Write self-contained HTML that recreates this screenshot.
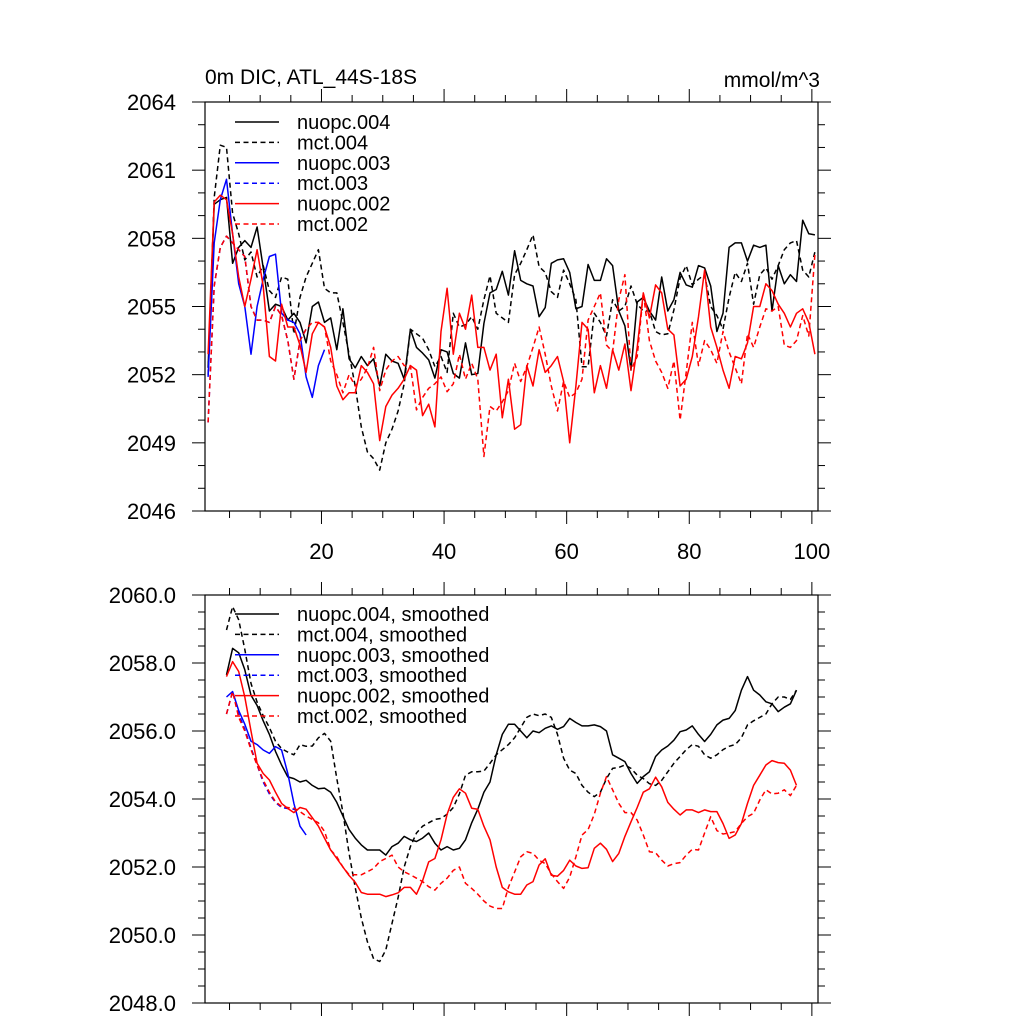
<!DOCTYPE html>
<html><head><meta charset="utf-8"><style>
html,body{margin:0;padding:0;background:#fff;}
svg{display:block;font-family:"Liberation Sans",Arial,sans-serif;}
</style></head><body>
<svg id="chart" width="1024" height="1024" viewBox="0 0 1024 1024" xmlns="http://www.w3.org/2000/svg">
<rect width="1024" height="1024" fill="#fff"/>
<text x="205" y="84" font-size="21">0m DIC, ATL_44S-18S</text>
<text x="820" y="87" font-size="21" text-anchor="end">mmol/m^3</text>
<g id="top"></g>
<g id="bot"></g>
</svg>
<script>
// ---- top panel data (index i = 1..N) ----
const nuopc004 = [2052.3,2059.5,2059.7,2059.8,2056.9,2057.6,2057.9,2057.6,2058.5,2056.7,2054.8,2055.1,2055.0,2054.4,2054.7,2054.3,2053.4,2055.0,2055.2,2054.3,2054.5,2053.1,2054.9,2052.7,2052.3,2052.8,2052.4,2052.7,2051.5,2052.9,2052.6,2052.5,2051.8,2054.0,2053.2,2052.95,2052.65,2051.85,2053.1,2053.0,2052.05,2051.85,2053.4,2052.0,2052.05,2054.25,2055.6,2055.75,2056.55,2055.5,2057.45,2056.15,2056.0,2055.9,2054.55,2054.95,2056.9,2057.05,2057.1,2056.5,2054.9,2055.0,2056.85,2056.15,2056.15,2057.1,2056.8,2054.8,2054.15,2052.2,2055.2,2055.4,2054.8,2054.4,2056.3,2054.8,2055.3,2056.5,2055.95,2055.85,2056.8,2056.7,2055.9,2053.9,2054.7,2057.6,2057.8,2057.8,2057.0,2057.7,2057.6,2057.7,2054.8,2056.8,2056.0,2056.4,2056.1,2058.8,2058.2,2058.15];
const mct004 = [2052.0,2059.8,2062.1,2062.0,2059.1,2058.2,2057.05,2057.4,2056.3,2056.8,2055.7,2055.4,2056.3,2056.2,2053.8,2055.4,2056.3,2056.9,2057.5,2055.8,2055.6,2055.6,2054.3,2052.9,2051.5,2049.7,2048.6,2048.3,2047.8,2049.0,2049.6,2050.4,2051.6,2054.0,2053.8,2053.6,2053.1,2052.35,2052.8,2052.1,2054.7,2054.1,2054.2,2054.55,2054.0,2055.3,2056.35,2054.7,2054.5,2054.3,2056.4,2056.9,2057.5,2058.15,2056.75,2056.5,2055.65,2055.4,2056.6,2056.0,2055.3,2052.35,2052.35,2054.7,2054.3,2053.7,2055.3,2054.8,2055.0,2055.9,2055.1,2054.8,2054.8,2053.9,2053.75,2053.8,2054.85,2056.25,2056.8,2055.95,2056.2,2056.4,2055.0,2054.6,2054.0,2055.4,2056.5,2056.1,2056.9,2055.1,2056.4,2056.7,2056.2,2056.8,2057.5,2057.8,2057.9,2056.6,2056.3,2057.4];
const nuopc003 = [2051.9,2057.8,2059.7,2060.6,2058.2,2056.0,2055.0,2052.9,2055.0,2056.2,2057.2,2057.3,2054.7,2054.4,2054.3,2053.8,2051.9,2051.0,2052.4,2053.1];
const mct003 = [2049.9,2055.9,2057.6,2058.1,2057.8,2057.5,2057.2,2055.0,2054.4,2054.4,2054.3,2055.0,2054.6,2053.5,2051.8,2053.5,2054.0];
const nuopc002 = [2052.9,2059.6,2059.9,2059.7,2058.2,2056.3,2055.0,2056.2,2057.5,2055.9,2052.8,2052.6,2055.1,2054.1,2054.1,2053.3,2052.1,2053.8,2054.3,2054.1,2053.2,2051.5,2050.9,2051.2,2051.2,2052.4,2052.1,2051.6,2049.1,2050.6,2051.1,2051.4,2051.8,2052.4,2052.2,2050.2,2050.7,2049.7,2053.9,2055.8,2052.9,2054.7,2054.0,2055.5,2053.2,2053.2,2052.2,2052.9,2050.1,2051.8,2049.6,2049.8,2052.4,2051.5,2053.1,2052.1,2052.4,2052.8,2051.7,2049.0,2051.5,2054.3,2054.0,2051.2,2052.4,2051.4,2053.1,2052.2,2053.35,2051.3,2053.2,2055.6,2054.5,2055.95,2055.6,2054.0,2053.75,2051.5,2051.8,2052.8,2054.55,2056.6,2054.1,2053.2,2052.2,2051.4,2052.8,2052.7,2053.4,2055.0,2055.0,2056.0,2055.7,2055.1,2054.7,2054.1,2054.7,2054.9,2054.3,2052.9];
const mct002 = [2049.9,2055.9,2057.6,2058.1,2057.8,2057.5,2057.2,2055.0,2054.4,2054.4,2054.3,2055.0,2054.6,2053.5,2051.8,2053.5,2054.0,2054.3,2054.3,2054.1,2052.6,2052.0,2051.2,2052.0,2051.5,2051.8,2052.3,2053.2,2051.3,2052.2,2052.6,2052.8,2052.4,2052.4,2050.45,2051.0,2051.4,2051.6,2051.9,2051.25,2051.6,2052.9,2051.8,2052.5,2051.8,2048.4,2050.6,2050.4,2050.8,2051.3,2052.5,2051.7,2052.35,2053.2,2054.1,2052.9,2051.5,2050.4,2051.7,2051.0,2051.2,2051.8,2054.4,2055.0,2055.6,2053.3,2053.0,2055.3,2056.4,2052.2,2052.8,2055.6,2053.5,2052.6,2052.1,2051.4,2052.6,2050.0,2052.1,2054.3,2052.4,2053.5,2053.1,2052.5,2053.9,2053.0,2052.3,2051.6,2053.8,2053.2,2054.1,2054.9,2054.8,2055.0,2053.3,2053.2,2053.5,2054.6,2053.7,2057.3];
// ---- bottom panel smoothed data (index i starts at 4) ----
const smoothStart = 4;
const nuopc004s = [2057.65,2058.43,2058.3,2057.8,2057.05,2056.75,2056.3,2055.9,2055.4,2055.0,2054.65,2054.6,2054.5,2054.55,2054.4,2054.3,2054.32,2054.2,2053.9,2053.5,2053.1,2052.85,2052.65,2052.5,2052.5,2052.5,2052.35,2052.6,2052.7,2052.9,2052.8,2052.75,2052.85,2053.0,2052.7,2052.5,2052.6,2052.5,2052.55,2052.8,2053.3,2053.7,2054.2,2054.5,2055.3,2055.9,2056.2,2056.2,2056.0,2055.8,2056.0,2055.95,2056.08,2056.15,2056.05,2056.13,2056.37,2056.25,2056.15,2056.15,2056.18,2056.13,2056.0,2055.3,2055.2,2055.1,2054.75,2054.46,2054.66,2054.8,2055.25,2055.44,2055.56,2055.73,2055.98,2056.03,2056.15,2055.9,2055.69,2055.9,2056.18,2056.32,2056.37,2056.6,2057.2,2057.6,2057.2,2057.06,2056.86,2056.8,2056.57,2056.7,2056.8,2057.2];
const mct004s = [2058.97,2059.66,2059.27,2058.4,2057.4,2056.85,2056.45,2056.1,2055.7,2055.48,2055.38,2055.3,2055.6,2055.55,2055.56,2055.8,2055.93,2055.7,2054.6,2053.6,2052.4,2051.4,2050.5,2049.8,2049.3,2049.22,2049.56,2050.34,2051.1,2052.0,2052.6,2053.0,2053.2,2053.3,2053.4,2053.43,2053.55,2053.75,2054.15,2054.7,2054.8,2054.8,2054.82,2055.05,2055.3,2055.45,2055.6,2055.8,2056.1,2056.4,2056.5,2056.45,2056.5,2056.4,2055.9,2055.2,2054.85,2054.75,2054.4,2054.2,2054.07,2054.2,2054.6,2054.9,2054.93,2055.0,2054.9,2054.7,2054.6,2054.45,2054.4,2054.55,2054.8,2055.05,2055.25,2055.45,2055.6,2055.55,2055.3,2055.2,2055.3,2055.45,2055.55,2055.6,2055.8,2056.18,2056.3,2056.4,2056.5,2056.8,2057.0,2057.0,2056.93,2057.2];
const nuopc003s = [2057.0,2057.16,2056.6,2056.2,2055.7,2055.6,2055.44,2055.34,2055.54,2055.44,2054.75,2053.87,2053.2,2052.94];
const mct003s = [2056.5,2057.16,2056.5,2056.05,2055.5,2055.0,2054.5,2054.15,2053.9,2053.75,2053.72,2053.7,2053.6];
const nuopc002s = [2057.6,2058.04,2057.75,2057.0,2056.0,2055.05,2054.75,2054.56,2054.2,2053.87,2053.72,2053.6,2053.75,2053.7,2053.45,2053.2,2052.85,2052.5,2052.25,2052.0,2051.75,2051.55,2051.25,2051.2,2051.2,2051.2,2051.13,2051.18,2051.24,2051.4,2051.4,2051.2,2051.6,2052.15,2052.25,2052.8,2053.55,2054.05,2054.3,2054.17,2053.73,2053.7,2053.2,2052.8,2052.0,2051.4,2051.27,2051.2,2051.2,2051.47,2051.57,2052.06,2052.24,2051.76,2051.73,2051.9,2052.2,2052.03,2051.96,2051.98,2052.55,2052.7,2052.52,2052.16,2052.4,2052.9,2053.33,2053.75,2054.2,2054.3,2054.64,2054.36,2053.9,2053.7,2053.53,2053.68,2053.68,2053.6,2053.68,2053.63,2053.63,2053.28,2052.84,2052.94,2053.28,2053.87,2054.4,2054.7,2055.0,2055.13,2055.07,2055.05,2054.85,2054.4];
const mct002s = [2056.5,2057.16,2056.4,2056.0,2055.45,2055.0,2054.56,2054.2,2053.92,2053.78,2053.75,2053.73,2053.63,2053.5,2053.4,2053.3,2053.05,2052.5,2052.3,2052.0,2051.77,2051.77,2051.77,2051.86,2051.96,2052.16,2052.25,2052.35,2052.0,2051.86,2051.77,2051.67,2051.57,2051.42,2051.32,2051.52,2051.67,2051.9,2052.0,2051.52,2051.37,2051.2,2051.0,2050.85,2050.78,2050.78,2051.4,2051.85,2052.3,2052.45,2052.4,2052.2,2052.1,2051.8,2051.57,2051.37,2051.7,2052.3,2052.94,2053.1,2053.55,2054.17,2054.66,2054.27,2053.87,2053.6,2053.6,2053.38,2052.94,2052.45,2052.42,2052.2,2052.03,2052.1,2052.13,2052.35,2052.52,2052.5,2053.0,2053.48,2053.07,2052.97,2053.0,2053.04,2053.28,2053.48,2053.58,2053.97,2054.27,2054.15,2054.17,2054.27,2054.1,2054.4];
const xTicks = [20,40,60,80,100];
const topYTicks = ["2064","2061","2058","2055","2052","2049","2046"];
const botYTicks = ["2060.0","2058.0","2056.0","2054.0","2052.0","2050.0","2048.0"];
const topLabels = ["nuopc.004","mct.004","nuopc.003","mct.003","nuopc.002","mct.002"];
const botLabels = ["nuopc.004, smoothed","mct.004, smoothed","nuopc.003, smoothed","mct.003, smoothed","nuopc.002, smoothed","mct.002, smoothed"];

const NS='http://www.w3.org/2000/svg';
const L=205,R=818;
const xs=v=>L+(v-1)*(R-L)/100;
function mk(tag,attrs,parent){const e=document.createElementNS(NS,tag);for(const k in attrs)e.setAttribute(k,attrs[k]);parent.appendChild(e);return e;}

function panel(g,top,bot,ymin,ymax,ystep,yminor,yTickLabels,xLabels,series,labels,legY){
  const ys=v=>bot-(v-ymin)*(bot-top)/(ymax-ymin);
  const fr=mk('rect',{x:L,y:top,width:R-L,height:bot-top,fill:'none',stroke:'#000','stroke-width':1.2},g);
  
  
  for(let v=ymin;v<=ymax+1e-9;v+=yminor){
    const major=Math.abs(((v-ymin)/ystep)-Math.round((v-ymin)/ystep))<1e-6;
    const len=major?13:7;
    const y=ys(v);
    const t1=mk('line',{x1:L-len,x2:L,y1:y,y2:y,stroke:'#000','stroke-width':1},g);
    
    
    const t2=mk('line',{x1:R,x2:R+len,y1:y,y2:y,stroke:'#000','stroke-width':1},g);
    
    
  }
  yTickLabels.forEach(s=>{
    const t=mk('text',{x:176,y:ys(parseFloat(s))+8,'font-size':22,'text-anchor':'end'},g);
    t.textContent=s;
    
    
  });
  for(let v=5;v<=100;v+=5){
    const major=v%20===0;const len=major?13:7;
    const a=mk('line',{x1:xs(v),x2:xs(v),y1:bot,y2:bot+len,stroke:'#000','stroke-width':1},g);
    
    
    const b=mk('line',{x1:xs(v),x2:xs(v),y1:top,y2:top-len,stroke:'#000','stroke-width':1},g);
    
    
  }
  if(xLabels){xLabels.forEach(v=>{
    const t=mk('text',{x:xs(v),y:bot+48,'font-size':22,'text-anchor':'middle'},g);
    t.textContent=String(v);
    
    
  });}
  series.forEach((s,k)=>{
    const pts=s.data.map((v,i)=>xs(s.start+i+0.5).toFixed(1)+','+ys(v).toFixed(1)).join(' ');
    const p=mk('polyline',{points:pts,fill:'none',stroke:s.color,'stroke-width':1.5,'stroke-dasharray':s.dash?'5 3.5':'none','stroke-linejoin':'round'},g);
    
    
  });
  series.forEach((s,k)=>{
    const y=legY+k*20.4;
    const ln=mk('line',{x1:235,x2:279,y1:y,y2:y,stroke:s.color,'stroke-width':1.5,'stroke-dasharray':s.dash?'5 3.5':'none'},g);
    
    
    const t=mk('text',{x:297,y:y+7,'font-size':20},g);
    t.textContent=labels[k];
    
    
  });
}
panel(document.getElementById('top'),102,511,2046,2064,3,1,topYTicks,xTicks,[
  {data:nuopc004,start:1,color:'#000',dash:false},
  {data:mct004,start:1,color:'#000',dash:true},
  {data:nuopc003,start:1,color:'#0000ff',dash:false},
  {data:mct003,start:1,color:'#0000ff',dash:true},
  {data:nuopc002,start:1,color:'#ff0000',dash:false},
  {data:mct002,start:1,color:'#ff0000',dash:true}],topLabels,122);
panel(document.getElementById('bot'),595,1003,2048,2060,2,0.5,botYTicks,null,[
  {data:nuopc004s,start:smoothStart,color:'#000',dash:false},
  {data:mct004s,start:smoothStart,color:'#000',dash:true},
  {data:nuopc003s,start:smoothStart,color:'#0000ff',dash:false},
  {data:mct003s,start:smoothStart,color:'#0000ff',dash:true},
  {data:nuopc002s,start:smoothStart,color:'#ff0000',dash:false},
  {data:mct002s,start:smoothStart,color:'#ff0000',dash:true}],botLabels,614);
</script>
</body></html>
